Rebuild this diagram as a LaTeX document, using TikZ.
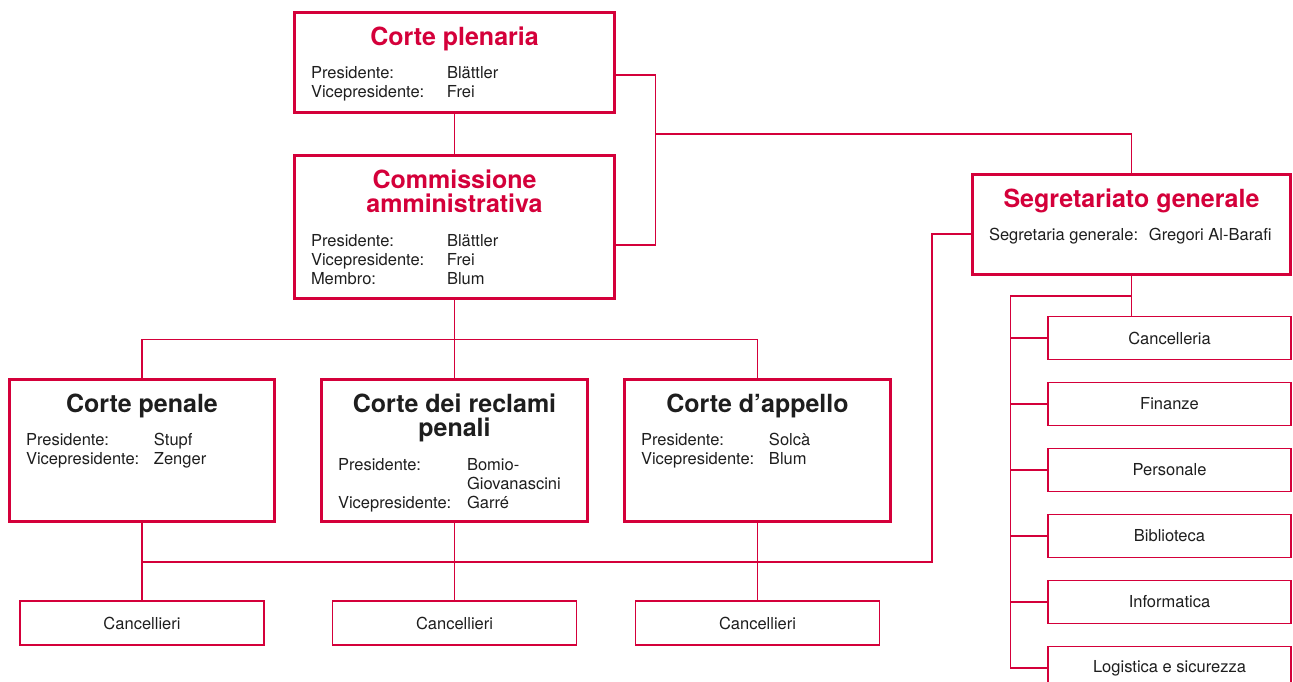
\documentclass[tikz,border=0pt]{standalone}
\usepackage{fontspec}
\setmainfont{TeX Gyre Heros}
\usepackage{tikz}

\definecolor{rosso}{RGB}{212,0,58}
\definecolor{nero}{RGB}{30,30,30}

\newlength{\colonna}
\newcommand{\titolo}{\fontsize{25}{24.5}\selectfont\bfseries}
\newcommand{\corpo}{\fontsize{16.5}{19}\selectfont}
\newcommand{\voce}[2]{\makebox[\colonna][l]{#1}#2}
\newcommand{\scheda}[5]{%
  \begin{minipage}[c][#2pt][t]{#1pt}%
    \setlength{\colonna}{#3pt}%
    {\centering\titolo\rule{0pt}{32.5pt}#4\par}%
    \vspace{14.5pt}%
    {\corpo\color{nero}\leftskip=16.5pt\parindent=0pt #5\par}%
  \end{minipage}}

\begin{document}
\begin{tikzpicture}[x=1pt,y=-1pt,
  linea/.style={rosso,line width=1.2pt},
  organo/.style={draw=rosso,line width=2.8pt,inner sep=0pt,text=rosso},
  corte/.style={organo,text=nero},
  ufficio/.style={draw=rosso,line width=1.6pt,inner sep=0pt,minimum width=243pt,
    minimum height=43pt,text=nero,font=\corpo}]
\useasboundingbox (0,0) rectangle (1293,681);

\node[organo] (cp) at (454.5,62.5) {\scheda{320}{100}{136}{Corte plenaria}{\voce{Presidente:}{Blättler}\\\voce{Vicepresidente:}{Frei}}};
\node[organo] (ca) at (454.5,227) {\scheda{320}{143}{136}{Commissione\\amministrativa}{\voce{Presidente:}{Blättler}\\\voce{Vicepresidente:}{Frei}\\\voce{Membro:}{Blum}}};
\node[organo] (sg) at (1131.5,224.5) {\scheda{318}{100}{160}{Segretariato generale}{\voce{Segretaria generale:}{Gregori Al-Barafi}}};

\node[corte] (pen) at (142,450.5) {\scheda{265}{142}{128}{Corte penale}{\voce{Presidente:}{Stupf}\\\voce{Vicepresidente:}{Zenger}}};
\node[corte] (rec) at (454.5,450.5) {\scheda{266}{142}{129}{Corte dei reclami\\penali}{\voce{Presidente:}{Bomio-}\\\voce{}{Giovanascini}\\\voce{Vicepresidente:}{Garré}}};
\node[corte] (app) at (757.5,450.5) {\scheda{266}{142}{128}{Corte d’appello}{\voce{Presidente:}{Solcà}\\\voce{Vicepresidente:}{Blum}}};

\node[ufficio,minimum width=244pt,minimum height=44pt] (can1) at (142,623) {Cancellieri};
\node[ufficio,minimum width=244pt,minimum height=44pt] (can2) at (454.5,623) {Cancellieri};
\node[ufficio,minimum width=244pt,minimum height=44pt] (can3) at (757.5,623) {Cancellieri};

\foreach \nome [count=\i] in {Cancelleria,Finanze,Personale,Biblioteca,Informatica,Logistica e sicurezza}
  \node[ufficio] (uff\i) at (1169.5,272+66*\i) {\nome};

\coordinate (giunto) at (655.5,134);
\coordinate (ramo) at (454.5,339.5);
\coordinate (ritorno) at (932,562);
\coordinate (dorsale) at (1010.5,296);

\draw[linea] (cp.south) -- (ca.north);
\draw[linea] ([yshift=-12.5pt]cp.east) -| (giunto) |- ([yshift=-18pt]ca.east);
\draw[linea] (giunto) -| (sg.north);

\draw[linea] (ca.south) -- (rec.north);
\draw[linea] (pen.north) |- (ramo) -| (app.north);
\draw[linea] (pen.south) -- (can1.north);
\draw[linea] (rec.south) -- (can2.north);
\draw[linea] (app.south) -- (can3.north);
\draw[linea] ([yshift=-9.5pt]sg.west) -| (ritorno) -- (ritorno -| pen.south);

\draw[linea] (sg.south) -- (sg.south |- uff1.north);
\draw[linea] (dorsale -| sg.south) -- (dorsale) |- (uff6.west);
\foreach \i in {1,...,5}
  \draw[linea] (dorsale |- uff\i.west) -- (uff\i.west);

\end{tikzpicture}
\end{document}
